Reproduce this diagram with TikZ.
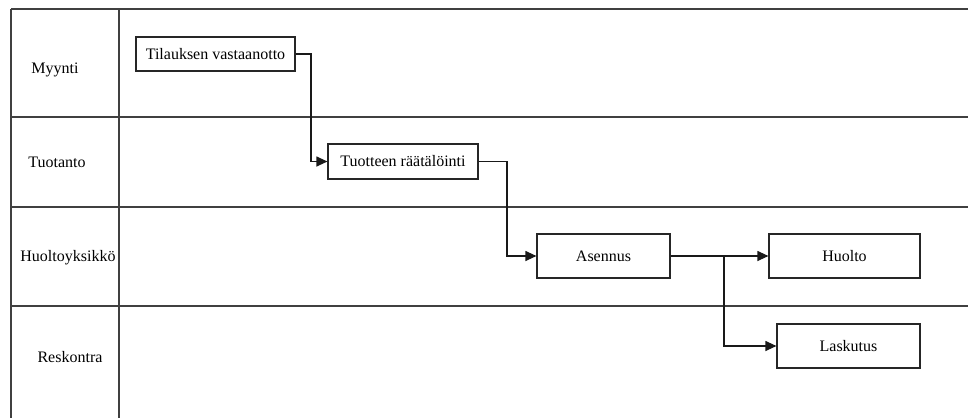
\documentclass[tikz,border=0pt]{standalone}
\usepackage{fontspec}
\setmainfont{Liberation Serif}
\usetikzlibrary{arrows.meta}
\begin{document}
\begin{tikzpicture}[x=1pt,y=-1pt,
  lane/.style={line width=1.4pt,draw=black!75},
  box/.style={draw=black!85,line width=1.2pt,inner sep=0pt,font=\fontsize{16}{18}\selectfont},
  lbl/.style={font=\fontsize{16}{18}\selectfont,inner sep=0pt},
  flow/.style={draw=black!90,line width=1.2pt,-{Triangle[length=11pt,width=10pt]}},
  link/.style={draw=black!90,line width=1.2pt}]
\useasboundingbox (0,0) rectangle (968,418);
% lanes
\draw[lane] (11,9) -- (968,9);
\draw[lane] (11,117) -- (968,117);
\draw[lane] (11,207) -- (968,207);
\draw[lane] (11,306) -- (968,306);
\draw[lane] (11,9) -- (11,418);
\draw[lane] (119,9) -- (119,418);
% lane labels
\node[lbl] (myynti) at (55,70) {Myynti};
\node[lbl] (tuotanto) at (57,162) {Tuotanto};
\node[lbl] (huoltoy) at (68,258) {Huoltoyksikkö};
\node[lbl] (reskontra) at (70,357) {Reskontra};
% boxes
\node[box,minimum width=159pt,minimum height=34pt] (tilaus) at (215.5,54) {Tilauksen vastaanotto};
\node[box,minimum width=150pt,minimum height=35pt] (tuote) at (403,161.5) {Tuotteen räätälöinti};
\node[box,minimum width=133pt,minimum height=44pt] (asennus) at (603.5,256) {Asennus};
\node[box,minimum width=151pt,minimum height=44pt] (huolto) at (844.5,256) {Huolto};
\node[box,minimum width=143pt,minimum height=44pt] (laskutus) at (848.5,346) {Laskutus};
% connectors
\coordinate (c1) at (311,54);
\coordinate (c2) at (311,161.5);
\draw[flow] (tilaus.east) -- (c1) -- (c2) -- (tuote.west);
\coordinate (c3) at (507,161.5);
\coordinate (c4) at (507,256);
\draw[flow] (tuote.east) -- (c3) -- (c4) -- (asennus.west);
\draw[flow] (asennus.east) -- (huolto.west);
\coordinate (b1) at (724,256);
\coordinate (b2) at (724,346);
\draw[flow] (b1) -- (b2) -- (laskutus.west);
\end{tikzpicture}
\end{document}
